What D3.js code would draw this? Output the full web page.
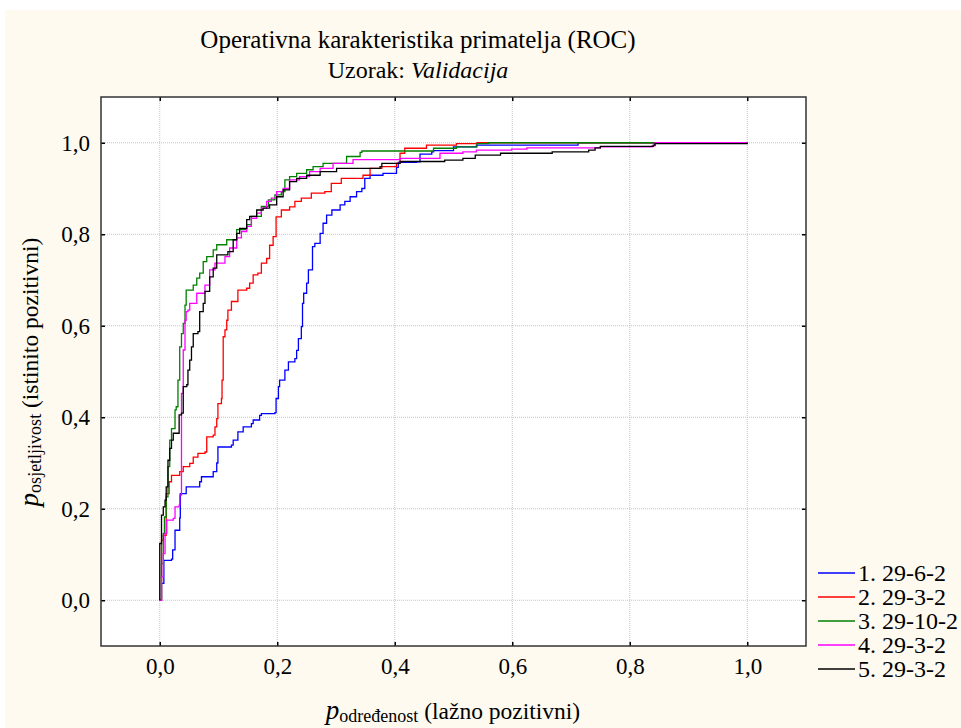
<!DOCTYPE html>
<html>
<head>
<meta charset="utf-8">
<script src="https://cdn.jsdelivr.net/npm/d3@7"></script>
<style>
  body { margin: 0; background: #ffffff; }
  text { font-family: "Liberation Serif", "Tinos", "Times New Roman", "DejaVu Serif", serif; fill: #000; }
</style>
</head>
<body>
<div id="chart"></div>
<script>
// ROC curves, [fpr, tpr] pairs
var seriesNames = ["1. 29-6-2", "2. 29-3-2", "3. 29-10-2", "4. 29-3-2", "5. 29-3-2"];
var seriesColors = ["#0000ff", "#ff0000", "#008000", "#ff00ff", "#000000"];

var roc1 = [[0,0],[0.003,0.037],[0.007,0.087],[0.02,0.09],[0.022,0.11],[0.026,0.153],[0.034,0.18],[0.035,0.233],
  [0.045,0.248],[0.068,0.259],[0.071,0.27],[0.091,0.281],[0.097,0.3],[0.099,0.335],[0.122,0.339],[0.125,0.35],
  [0.133,0.368],[0.142,0.379],[0.156,0.386],[0.159,0.394],[0.17,0.404],[0.173,0.408],[0.196,0.41],[0.198,0.441],
  [0.202,0.467],[0.204,0.481],[0.213,0.503],[0.219,0.521],[0.23,0.528],[0.233,0.546],[0.236,0.572],[0.241,0.598],
  [0.243,0.649],[0.245,0.671],[0.25,0.693],[0.253,0.722],[0.26,0.773],[0.264,0.78],[0.273,0.802],[0.278,0.824],
  [0.284,0.842],[0.293,0.853],[0.307,0.864],[0.315,0.872],[0.324,0.882],[0.335,0.893],[0.344,0.9],[0.349,0.922],
  [0.358,0.929],[0.38,0.933],[0.403,0.946],[0.406,0.957],[0.437,0.958],[0.443,0.975],[0.463,0.98],[0.466,0.983],
  [0.5,0.991],[0.539,0.995],[0.71,0.995],[0.712,1],[1,1]];

var roc2 = [[0,0],[0.003,0.131],[0.006,0.142],[0.011,0.233],[0.016,0.259],[0.02,0.273],[0.034,0.281],[0.04,0.292],
  [0.051,0.299],[0.057,0.313],[0.065,0.321],[0.077,0.324],[0.08,0.357],[0.091,0.361],[0.094,0.379],[0.097,0.397],
  [0.099,0.43],[0.105,0.441],[0.106,0.481],[0.108,0.576],[0.111,0.591],[0.114,0.612],[0.116,0.634],[0.122,0.653],
  [0.133,0.678],[0.148,0.682],[0.153,0.693],[0.159,0.711],[0.167,0.715],[0.173,0.737],[0.182,0.747],[0.187,0.776],
  [0.193,0.795],[0.198,0.838],[0.207,0.853],[0.221,0.86],[0.23,0.872],[0.241,0.879],[0.258,0.89],[0.281,0.893],
  [0.292,0.911],[0.309,0.922],[0.346,0.929],[0.358,0.944],[0.378,0.948],[0.403,0.955],[0.409,0.977],[0.417,0.988],
  [0.454,0.995],[0.505,0.998],[0.54,1],[1,1]];

var roc3 = [[0,0],[0.003,0.08],[0.006,0.146],[0.008,0.182],[0.011,0.226],[0.014,0.292],[0.017,0.35],[0.02,0.375],
  [0.026,0.416],[0.028,0.423],[0.031,0.481],[0.034,0.554],[0.037,0.583],[0.04,0.605],[0.043,0.645],[0.045,0.678],
  [0.057,0.689],[0.063,0.704],[0.068,0.715],[0.074,0.74],[0.08,0.751],[0.091,0.766],[0.097,0.777],[0.114,0.788],
  [0.131,0.81],[0.148,0.821],[0.156,0.839],[0.173,0.861],[0.185,0.875],[0.196,0.886],[0.207,0.893],[0.213,0.919],
  [0.221,0.926],[0.233,0.933],[0.25,0.941],[0.261,0.948],[0.278,0.955],[0.318,0.97],[0.341,0.979],[0.344,0.982],
  [0.46,0.982],[0.466,0.988],[0.505,0.991],[0.54,0.998],[0.56,1],[1,1]];

var roc4 = [[0,0],[0.003,0.051],[0.006,0.102],[0.009,0.146],[0.012,0.175],[0.023,0.179],[0.026,0.204],[0.033,0.208],
  [0.034,0.23],[0.037,0.452],[0.04,0.547],[0.043,0.612],[0.045,0.631],[0.048,0.634],[0.051,0.649],[0.063,0.671],
  [0.077,0.689],[0.085,0.722],[0.094,0.737],[0.111,0.751],[0.119,0.77],[0.131,0.792],[0.139,0.806],[0.148,0.817],
  [0.156,0.835],[0.165,0.846],[0.173,0.857],[0.182,0.872],[0.19,0.879],[0.199,0.893],[0.21,0.9],[0.221,0.919],
  [0.238,0.926],[0.255,0.937],[0.273,0.944],[0.295,0.955],[0.329,0.963],[0.397,0.963],[0.409,0.966],[0.477,0.977],
  [0.516,0.98],[0.539,0.984],[0.599,0.986],[0.625,0.989],[0.75,0.991],[0.838,0.993],[0.843,1],[1,1]];

var roc5 = [[0,0],[0,0.124],[0.003,0.186],[0.006,0.204],[0.009,0.219],[0.011,0.248],[0.014,0.306],[0.017,0.332],
  [0.02,0.35],[0.023,0.365],[0.033,0.405],[0.037,0.409],[0.04,0.467],[0.046,0.471],[0.048,0.503],[0.051,0.525],
  [0.054,0.554],[0.057,0.583],[0.065,0.587],[0.068,0.631],[0.074,0.649],[0.077,0.675],[0.085,0.707],[0.091,0.726],
  [0.097,0.755],[0.116,0.762],[0.125,0.788],[0.131,0.802],[0.136,0.813],[0.148,0.832],[0.153,0.839],[0.165,0.853],
  [0.176,0.857],[0.187,0.864],[0.199,0.882],[0.21,0.897],[0.221,0.915],[0.233,0.922],[0.25,0.929],[0.273,0.937],
  [0.301,0.944],[0.375,0.948],[0.378,0.955],[0.403,0.955],[0.409,0.959],[0.485,0.962],[0.516,0.966],[0.537,0.973],
  [0.58,0.977],[0.668,0.98],[0.73,0.984],[0.741,0.989],[0.75,0.992],[0.84,0.995],[0.843,0.998],[0.98,0.998],[1,1]];

var rocData = [roc1, roc2, roc3, roc4, roc5];
var tickValues = [0, 0.2, 0.4, 0.6, 0.8, 1.0];

var W = 961, H = 728;
var margin = {top: 97, right: 155, bottom: 82, left: 101};
var width = W - margin.left - margin.right,
    height = H - margin.top - margin.bottom;
var serif = "'Liberation Serif', 'Tinos', 'Times New Roman', 'DejaVu Serif', serif";

var fmt = function(d) { return d3.format(".1f")(d).replace(".", ","); };

var svg = d3.select("#chart").append("svg")
    .attr("width", W)
    .attr("height", H);

// cream page background
svg.append("rect")
    .attr("x", 5).attr("y", 10)
    .attr("width", W - 5).attr("height", H - 10)
    .attr("fill", "#fefaf0");

var g = svg.append("g")
    .attr("transform", "translate(" + margin.left + "," + margin.top + ")");

var x = d3.scaleLinear().domain([-0.1, 1.1]).range([0, width]);
var y = d3.scaleLinear().domain([-0.1, 1.1]).range([height, 0]);

g.append("rect")
    .attr("width", width).attr("height", height)
    .attr("fill", "#ffffff");

// dotted grid
g.selectAll("line.vgrid").data(tickValues).enter().append("line")
    .attr("class", "vgrid")
    .attr("x1", function(d) { return x(d); }).attr("x2", function(d) { return x(d); })
    .attr("y1", 0).attr("y2", height)
    .attr("stroke", "#c4c4c4").attr("stroke-width", 1)
    .attr("stroke-dasharray", "1,1");

g.selectAll("line.hgrid").data(tickValues).enter().append("line")
    .attr("class", "hgrid")
    .attr("y1", function(d) { return y(d); }).attr("y2", function(d) { return y(d); })
    .attr("x1", 0).attr("x2", width)
    .attr("stroke", "#c4c4c4").attr("stroke-width", 1)
    .attr("stroke-dasharray", "1,1");

g.append("clipPath").attr("id", "clip")
  .append("rect").attr("width", width).attr("height", height);

var line = d3.line()
    .x(function(d) { return x(d[0]); })
    .y(function(d) { return y(d[1]); })
    .curve(d3.curveStepAfter);

g.append("g").attr("clip-path", "url(#clip)")
  .selectAll("path.roc")
  .data(rocData)
  .enter().append("path")
    .attr("class", "roc")
    .attr("d", line)
    .attr("fill", "none")
    .attr("stroke", function(d, i) { return seriesColors[i]; })
    .attr("stroke-width", 1.3);

// axes with inward ticks
var xAxisB = d3.axisBottom(x).tickValues(tickValues).tickSize(-4).tickPadding(12).tickFormat(fmt);
var xAxisT = d3.axisTop(x).tickValues(tickValues).tickSize(-4).tickFormat("");
var yAxisL = d3.axisLeft(y).tickValues(tickValues).tickSize(-4).tickPadding(11).tickFormat(fmt);
var yAxisR = d3.axisRight(y).tickValues(tickValues).tickSize(-4).tickFormat("");

function styleAxis(sel) {
  sel.select(".domain").remove();
  sel.selectAll(".tick line").attr("stroke", "#000").attr("stroke-width", 1.5);
  sel.selectAll("text").style("font-family", serif).style("font-size", "23px").attr("fill", "#000");
}

g.append("g").attr("transform", "translate(0," + height + ")").call(xAxisB).call(styleAxis);
g.append("g").call(xAxisT).call(styleAxis);
g.append("g").call(yAxisL).call(styleAxis);
g.append("g").attr("transform", "translate(" + width + ",0)").call(yAxisR).call(styleAxis);

// frame
g.append("rect")
    .attr("width", width).attr("height", height)
    .attr("fill", "none")
    .attr("stroke", "#333")
    .attr("stroke-width", 1.5);

// titles
var title = svg.append("text")
    .attr("x", 418).attr("y", 48)
    .attr("text-anchor", "middle")
    .style("font-family", serif)
    .style("font-size", "25px")
    .text("Operativna karakteristika primatelja (ROC)");

var sub = svg.append("text")
    .attr("x", 418).attr("y", 78)
    .attr("text-anchor", "middle")
    .style("font-family", serif)
    .style("font-size", "24px");
sub.append("tspan").text("Uzorak: ");
sub.append("tspan").style("font-style", "italic").text("Validacija");

// x axis label
var xl = svg.append("text")
    .attr("x", 453).attr("y", 719)
    .attr("text-anchor", "middle")
    .style("font-family", serif)
    .style("font-size", "23.5px");
xl.append("tspan").style("font-style", "italic").style("font-size", "27px").text("p");
xl.append("tspan").style("font-size", "18px").attr("dy", 3).text("određenost");
xl.append("tspan").attr("dy", -3).text(" (lažno pozitivni)");

// y axis label
var yl = svg.append("text")
    .attr("transform", "translate(38,372) rotate(-90)")
    .attr("text-anchor", "middle")
    .style("font-family", serif)
    .style("font-size", "23.5px");
yl.append("tspan").style("font-style", "italic").style("font-size", "27px").text("p");
yl.append("tspan").style("font-size", "18px").attr("dy", 3).text("osjetljivost");
yl.append("tspan").attr("dy", -3).text(" (istinito pozitivni)");

// legend
var legend = svg.append("g").attr("transform", "translate(818,573)");
var items = legend.selectAll("g.item").data(seriesNames).enter().append("g")
    .attr("class", "item")
    .attr("transform", function(d, i) { return "translate(0," + (i * 24) + ")"; });
items.append("line")
    .attr("x1", 0).attr("x2", 37)
    .attr("stroke", function(d, i) { return seriesColors[i]; })
    .attr("stroke-width", 1.3);
items.append("text")
    .attr("x", 40).attr("dy", "0.35em")
    .style("font-family", serif)
    .style("font-size", "24px")
    .text(function(d) { return d; });
</script>
</body>
</html>
